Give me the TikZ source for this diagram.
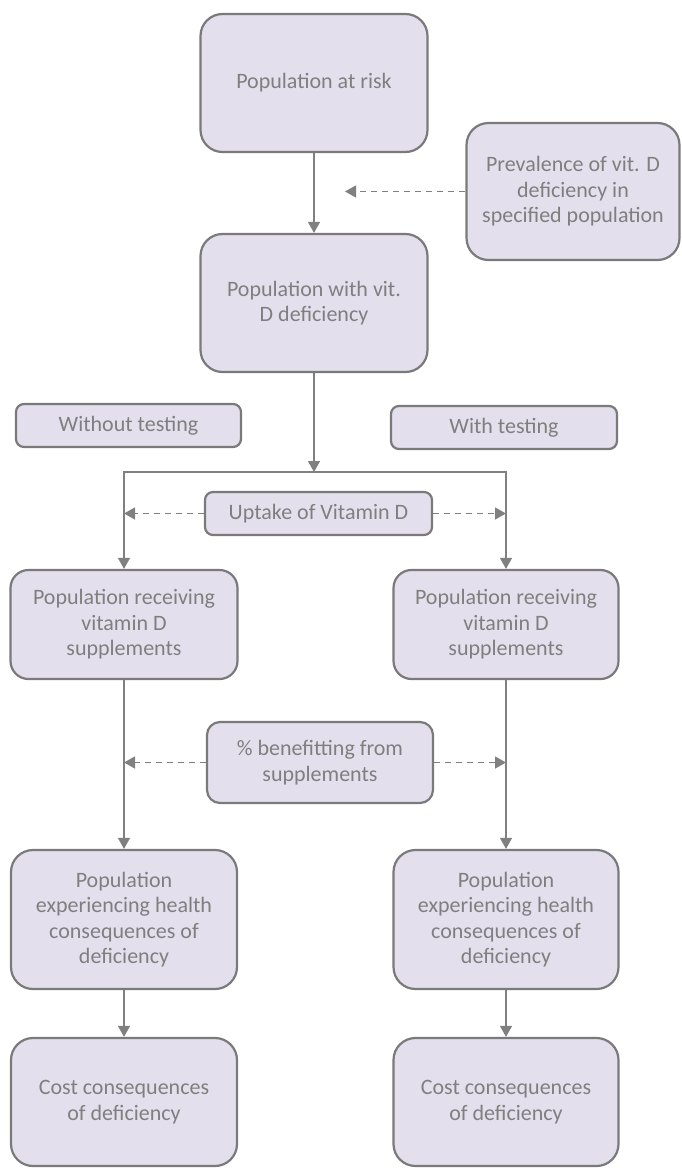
\documentclass[tikz,border=0pt]{standalone}
\usepackage{fontspec}
\setmainfont{Carlito}
\usetikzlibrary{arrows.meta}
\definecolor{boxfill}{HTML}{E4DFEC}
\definecolor{boxline}{HTML}{7A7A7A}
\definecolor{conn}{HTML}{808080}
\definecolor{txt}{HTML}{7F7F7F}
\tikzset{
  box/.style={draw=boxline, fill=boxfill, line width=2.2pt, text=txt, align=center,
    font=\fontsize{22}{25.5}\selectfont, inner sep=0pt},
  arr/.style={draw=conn, line width=1.3pt, -{Triangle[width=12pt,length=11pt]}},
  darr/.style={arr, dash pattern=on 6pt off 5pt},
  plainline/.style={draw=conn, line width=1.3pt}
}
\begin{document}
\begin{tikzpicture}[x=1pt,y=-1pt]
\useasboundingbox (0,0) rectangle (682,1169);
% nodes
\node[box, minimum width=227pt, minimum height=138pt, rounded corners=22pt] (b1) at (314,83) {Population at risk};
\node[box, minimum width=213pt, minimum height=137pt, rounded corners=22pt] (prev) at (573,191.5) {Prevalence of vit. D\\deficiency in\\specified population};
\node[box, minimum width=227pt, minimum height=138pt, rounded corners=22pt] (b3) at (314,303) {Population with vit.\\D deficiency};
\node[box, minimum width=225pt, minimum height=43pt, rounded corners=8pt] (wo) at (128.5,425.5) {Without testing};
\node[box, minimum width=226pt, minimum height=43pt, rounded corners=8pt] (wt) at (504,427.5) {With testing};
\node[box, minimum width=227pt, minimum height=43pt, rounded corners=8pt] (up) at (318.5,513.5) {Uptake of Vitamin D};
\node[box, minimum width=227pt, minimum height=109pt, rounded corners=18pt] (rl) at (124,624.5) {Population receiving\\vitamin D\\supplements};
\node[box, minimum width=225pt, minimum height=109pt, rounded corners=18pt] (rr) at (506,624.5) {Population receiving\\vitamin D\\supplements};
\node[box, minimum width=226pt, minimum height=81pt, rounded corners=13pt] (ben) at (320,762.5) {\% benefitting from\\supplements};
\node[box, minimum width=226pt, minimum height=139pt, rounded corners=22pt] (el) at (124,919.5) {Population\\experiencing health\\consequences of\\deficiency};
\node[box, minimum width=225pt, minimum height=139pt, rounded corners=22pt] (er) at (506,919.5) {Population\\experiencing health\\consequences of\\deficiency};
\node[box, minimum width=226pt, minimum height=128pt, rounded corners=22pt] (cl) at (124,1102) {Cost consequences\\of deficiency};
\node[box, minimum width=225pt, minimum height=128pt, rounded corners=22pt] (cr) at (506,1102) {Cost consequences\\of deficiency};
% connectors
\coordinate (t1) at (345,191.5);
\coordinate (j) at (314,472);
\draw[arr] (b1.south) -- (b3.north);
\draw[darr] (prev.west) -- (t1);
\draw[arr] (b3.south) -- (j);
\draw[arr] (j) -| (rl.north);
\draw[arr] (j) -| (rr.north);
\draw[darr] (up.west) -- (up.west -| rl.north);
\draw[darr] (up.east) -- (up.east -| rr.north);
\draw[arr] (rl.south) -- (el.north);
\draw[arr] (rr.south) -- (er.north);
\draw[darr] (ben.west) -- (ben.west -| rl.south);
\draw[darr] (ben.east) -- (ben.east -| rr.south);
\draw[arr] (el.south) -- (cl.north);
\draw[arr] (er.south) -- (cr.north);
\end{tikzpicture}
\end{document}
